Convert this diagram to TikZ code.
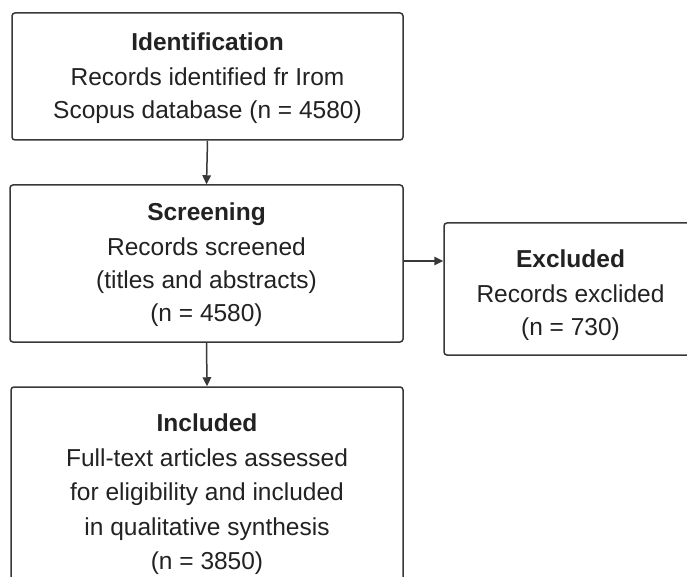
\documentclass[tikz,border=0pt]{standalone}
\usepackage{fontspec}
\setmainfont{Liberation Sans}
\usetikzlibrary{arrows.meta}
\definecolor{linec}{HTML}{383838}
\definecolor{txt}{HTML}{222222}
\begin{document}
\begin{tikzpicture}[x=1pt,y=-1pt,
  box/.style={draw=linec, line width=1.5pt, rounded corners=3pt, inner sep=0pt},
  boxtext/.style={align=center, font=\fontsize{24.5}{33}\selectfont, text=txt, inner sep=0pt},
  arr/.style={draw=linec, line width=1.5pt, -{Triangle[length=9pt,width=8.5pt]}}]
\useasboundingbox (0,0) rectangle (687,577);
\fill[white] (0,0) rectangle (687,577);
% boxes
\node[box, minimum width=391pt, minimum height=127pt] (ident) at (207.5,76.5) {};
\node[box, minimum width=393pt, minimum height=157pt] (screen) at (206.5,263.5) {};
\node[box, minimum width=253pt, minimum height=132pt] (excl) at (570.5,289) {};
\node[box, minimum width=392pt, minimum height=214pt] (incl) at (207,494) {};
% texts
\node[boxtext] (identt) at (207.5,78.5)
  {\textbf{Identification}\\[2pt] Records identified fr Irom\\ Scopus database (n = 4580)};
\node[boxtext] (screent) at (206.5,264.5)
  {\textbf{Screening}\\[2pt] Records screened\\ (titles and abstracts)\\ (n = 4580)};
\node[boxtext] (exclt) at (570.5,295)
  {\textbf{Excluded}\\[2pt] Records exclided\\ (n = 730)};
\node[boxtext, font=\fontsize{24.5}{34.2}\selectfont] (inclt) at (207,494)
  {\textbf{Included}\\[1pt] Full-text articles assessed\\ for eligibility and included\\ in qualitative synthesis\\ (n = 3850)};
% connectors
\draw[arr] (ident.south) -- (screen.north);
\draw[arr] (screen.south) -- (incl.north);
\draw[arr] ([yshift=2.5pt]screen.east) -- ([yshift=2.5pt]screen.east -| excl.west);
\end{tikzpicture}
\end{document}
